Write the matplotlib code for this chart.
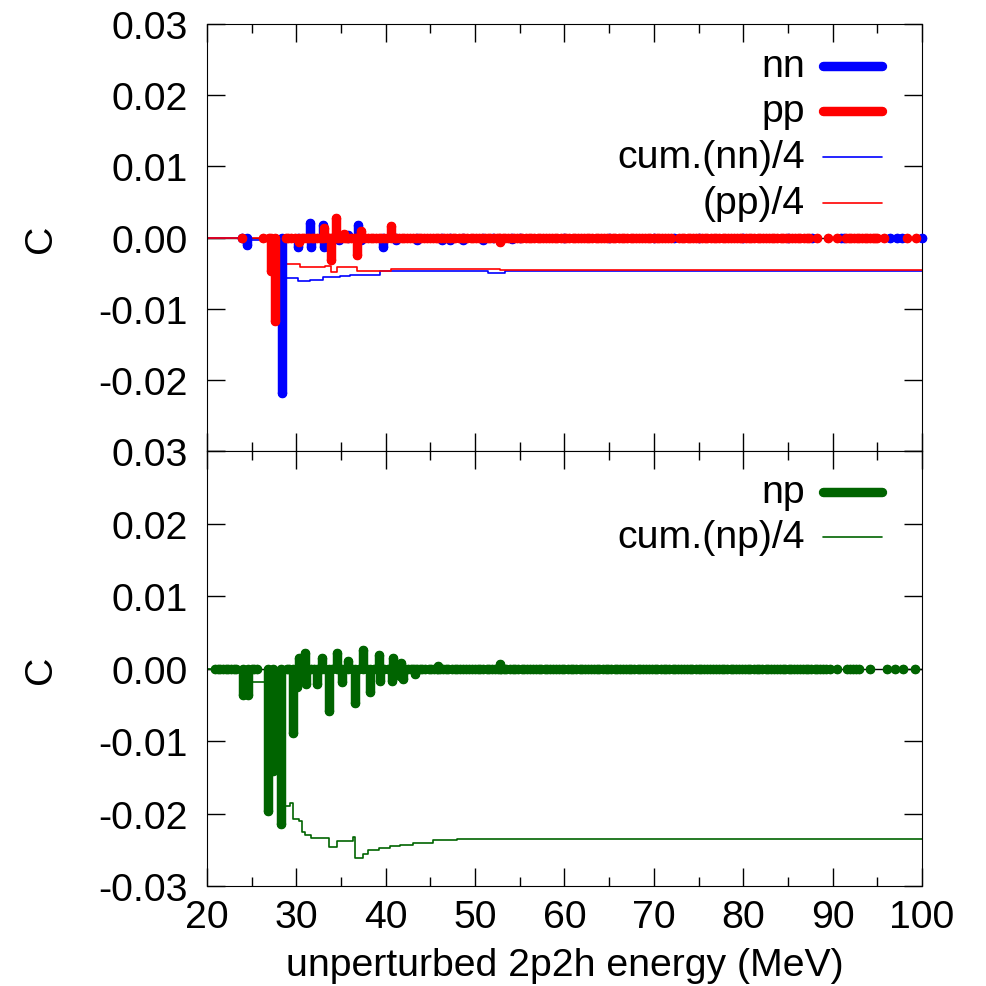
import matplotlib
matplotlib.use('Agg')
import matplotlib.pyplot as plt
from matplotlib.ticker import MultipleLocator

plt.rcParams['font.family'] = ['Liberation Sans', 'DejaVu Sans']
plt.rcParams['axes.unicode_minus'] = False

# ---- data (energy in MeV, C) ----
# nn impulses
nn_E = [23.9, 24.5, 28.35, 30.2, 31.5, 31.6, 33.0, 33.1, 34.8, 35.8, 36.9, 37.2, 39.7, 41.2,
        43.5, 46.3, 47.2, 48.6, 50.9, 52.0, 54.1, 55.0, 60.0, 65.0, 70.0, 72.3, 75.0, 80.0,
        85.0, 87.7, 90.9, 91.3, 96.4, 97.2, 97.8, 100.0]
nn_C = [0.0, -0.0011, -0.0218, -0.0014, 0.0021, -0.0014, 0.0018, -0.0013, -0.0004, 0.0003,
        0.0018, -0.0003, -0.0013, -0.0004,
        -0.0003, -0.0003, -0.0003, -0.0003, -0.0003, 0.0, -0.0002, 0.0, 0.0, 0.0, 0.0, 0.0,
        0.0, 0.0, 0.0, 0.0, 0.0, 0.0, 0.0, 0.0, 0.0, 0.0]

# pp impulses
pp_E = [23.9, 26.3, 26.9, 27.2, 27.6, 30.3, 33.1, 33.9, 34.4, 35.3, 36.8, 37.2, 40.6, 52.8]
pp_C = [0.0, 0.0, 0.0, -0.0047, -0.0118, -0.0007, 0.0014, -0.0031, 0.0028, 0.0005,
        -0.0024, 0.0009, 0.0016, -0.0007]
# pp states with |C| too small to see
pp_zero_E = [28.8, 29.1, 29.4, 29.8, 30.6, 30.9, 31.2, 31.4, 31.7, 32.0, 32.3, 32.6, 32.9,
             33.5, 33.7, 34.0, 34.7, 35.0, 35.5, 35.8, 36.1, 36.4, 36.7, 37.4, 37.7, 38.0,
             38.3, 38.6, 38.9, 39.2, 39.5, 39.8, 40.1, 40.9, 41.2, 41.5, 41.8, 42.1, 42.4,
             42.7, 43.0, 43.4, 43.7, 44.0, 44.3, 44.6, 44.9, 45.3, 45.6, 45.9, 46.2, 46.5,
             46.9, 47.2, 47.5, 47.8, 48.2, 48.5, 48.8, 49.1, 49.5, 49.8, 50.1, 50.4, 50.8,
             51.1, 51.4, 51.7, 52.1, 52.4, 52.7, 53.1, 53.4, 53.7, 54.0, 54.4, 54.7, 55.0,
             55.3, 55.7, 56.0, 56.3, 56.6, 57.0, 57.3, 57.6, 57.9, 58.3, 58.6, 58.9, 59.2,
             59.6, 59.9, 60.2, 60.5, 60.9, 61.2, 61.5, 61.8, 62.2, 62.5, 62.8, 63.1, 63.5,
             63.8, 64.1, 64.4, 64.8, 65.1, 65.4, 65.7, 66.1, 66.4, 66.7, 67.0, 67.4, 67.7,
             68.0, 68.3, 68.7, 69.0, 69.3, 69.6, 70.0, 70.3, 70.6, 70.9, 71.3, 71.6, 71.9,
             72.8, 73.1, 73.4, 73.8, 74.1, 74.4, 74.7, 75.1, 75.4, 75.7, 76.0, 76.4, 76.7,
             77.0, 77.3, 77.7, 78.0, 78.3, 78.6, 79.0, 79.3, 79.6, 79.9, 80.3, 80.6, 80.9,
             81.2, 81.6, 81.9, 82.2, 82.5, 82.9, 83.2, 83.5, 83.8, 84.2, 84.5, 84.8, 85.1,
             85.5, 85.8, 86.1, 86.4, 86.8, 87.1, 87.4, 88.3, 89.5, 90.5, 91.5, 91.8, 92.1,
             92.4, 92.7, 93.0, 93.3, 93.6, 93.9, 94.2, 94.5, 94.8, 95.0, 95.8, 98.3, 99.3]

# cumulative sums / 4 (step lines)
nn_cum_E = [20.0, 24.5, 28.35, 30.2, 31.5, 33.0, 34.9, 36.0, 39.4, 51.4, 53.4, 100.0]
nn_cum = [0.0, -0.0003, -0.0057, -0.0061, -0.0059, -0.0056, -0.0054, -0.0052, -0.0047,
          -0.0050, -0.0047, -0.0047]
pp_cum_E = [20.0, 27.0, 30.4, 33.2, 33.9, 34.5, 36.8, 40.6, 52.8, 100.0]
pp_cum = [0.0, -0.0037, -0.0042, -0.0040, -0.0049, -0.0042, -0.0047, -0.0044, -0.0045,
          -0.0045]

# np impulses
np_E = [24.0, 24.6, 26.8, 27.4, 28.3, 29.6, 30.1, 30.3, 31.0, 31.1, 32.3, 32.9, 33.7, 34.5,
        35.1, 35.8, 36.6, 37.5, 38.2, 39.3, 39.4, 40.7, 40.8, 41.6, 41.7, 41.9, 43.3, 45.8,
        52.8]
np_C = [-0.0037, -0.0036, -0.0196, -0.0142, -0.0214, -0.0089, -0.0026, 0.0015, 0.0022,
        -0.0022, -0.0022, 0.0015, -0.0058, 0.0022, -0.0019, 0.0011, -0.0047, 0.0025,
        -0.0033, 0.0018, -0.0017, -0.0017, 0.0015, -0.0010, 0.0008, -0.0015, -0.0008,
        0.0003, 0.0006]
np_zero_E = [20.9, 21.2, 21.5, 21.8, 22.1, 22.4, 22.7, 23.0, 23.2, 25.0, 25.3, 25.6, 28.9,
             29.2, 30.6, 31.6, 32.0, 33.2, 34.0, 35.4, 36.2, 37.0, 37.9, 38.7, 39.8, 40.3,
             41.2, 42.2, 42.5, 42.8, 43.1, 43.5, 43.8, 44.1, 44.4, 44.8, 45.1, 45.4, 45.7,
             46.1, 46.4, 46.7, 47.0, 47.4, 47.7, 48.0, 48.3, 48.7, 49.0, 49.3, 49.6, 50.0,
             50.3, 50.6, 50.9, 51.3, 51.6, 51.9, 52.2, 52.6, 52.9, 53.2, 53.5, 53.9, 54.2,
             54.5, 54.8, 55.2, 55.5, 55.8, 56.1, 56.5, 56.8, 57.1, 57.4, 57.8, 58.1, 58.4,
             58.7, 59.1, 59.4, 59.7, 60.0, 60.4, 60.7, 61.0, 61.3, 61.7, 62.0, 62.3, 62.6,
             63.0, 63.3, 63.6, 63.9, 64.3, 64.6, 64.9, 65.2, 65.6, 65.9, 66.2, 66.5, 66.9,
             67.2, 67.5, 67.8, 68.2, 68.5, 68.8, 69.1, 69.5, 69.8, 70.1, 70.4, 70.8, 71.1,
             71.4, 71.7, 72.1, 72.4, 72.7, 73.0, 73.4, 73.7, 74.0, 74.3, 74.7, 75.0, 75.3,
             75.6, 76.0, 76.3, 76.6, 76.9, 77.3, 77.6, 77.9, 78.2, 78.6, 78.9, 79.2, 79.5,
             79.9, 80.2, 80.5, 80.8, 81.2, 81.5, 81.8, 82.1, 82.5, 82.8, 83.1, 83.4, 83.8,
             84.1, 84.4, 84.7, 85.1, 85.4, 85.7, 86.0, 86.4, 86.7, 87.0, 87.3, 87.6, 88.0,
             88.3, 88.6, 88.9, 89.3, 89.7, 90.5, 91.6, 92.0, 92.3, 92.6, 93.0, 94.2, 96.1,
             97.0, 97.9, 99.2]
np_cum_E = [20.0, 24.0, 24.6, 26.8, 27.4, 28.3, 29.3, 29.6, 30.3, 30.6, 31.0, 31.6, 33.7,
            34.6, 36.3, 36.6, 37.5, 38.0, 39.3, 40.5, 41.6, 43.0, 45.3, 48.0, 100.0]
np_cum = [0.0, -0.0009, -0.0018, -0.0067, -0.0102, -0.0190, -0.0186, -0.0207, -0.0210,
          -0.0225, -0.0230, -0.0234, -0.0246, -0.0238, -0.0232, -0.0262, -0.0256, -0.0251,
          -0.0248, -0.0245, -0.0243, -0.0240, -0.0237, -0.0235, -0.0235]

yticks = [-0.03, -0.02, -0.01, 0.0, 0.01, 0.02, 0.03]
FS = 28.3
THICK = 6.8
THIN = 1.2


def impulses(ax, E, C, color, z):
    ax.vlines(E, 0, C, colors=color, lw=THICK, capstyle='round', zorder=z)
    ax.plot(E, C, 'o', ms=THICK, mew=0, color=color, zorder=z, clip_on=False)
    ax.plot(E, [0.0] * len(E), 'o', ms=THICK, mew=0, color=color, zorder=z, clip_on=False)


def style(ax):
    ax.set_xlim(20, 100)
    ax.set_ylim(-0.03, 0.03)
    ax.xaxis.set_major_locator(MultipleLocator(10))
    ax.xaxis.set_minor_locator(MultipleLocator(5))
    ax.tick_params(which='both', direction='in', top=True, right=True, width=1,
                   labelsize=FS)
    ax.tick_params(which='major', length=13)
    ax.tick_params(which='minor', length=6.5)
    ax.tick_params(axis='y', pad=14)
    ax.tick_params(axis='x', pad=9)
    ax.axhline(0, color='black', lw=1, zorder=1)
    ax.set_ylabel('C', fontsize=FS)
    ax.yaxis.set_label_coords(-0.207, 0.5)


def legend_entry(ax, y, label, color, lw):
    ax.text(0.836, y, label, transform=ax.transAxes, ha='right', va='center', fontsize=FS)
    ax.plot([0.8615, 0.944], [y, y], transform=ax.transAxes, color=color, lw=lw,
            solid_capstyle='round', clip_on=False)


fig = plt.figure(figsize=(9.87, 9.87), dpi=100)
ax1 = fig.add_axes([0.2097, 0.5420, 0.7244, 0.4327])
ax2 = fig.add_axes([0.2097, 0.1013, 0.7244, 0.4407])

# upper panel: nn, pp
ax1.step(nn_cum_E, nn_cum, where='post', color='blue', lw=THIN, zorder=2)
ax1.step(pp_cum_E, pp_cum, where='post', color='red', lw=THIN, zorder=2)
impulses(ax1, nn_E, nn_C, 'blue', 3)
impulses(ax1, pp_E, pp_C, 'red', 4)
impulses(ax1, pp_zero_E, [0.0] * len(pp_zero_E), 'red', 4)
style(ax1)
ax1.set_yticks(yticks)
ax1.set_yticklabels(['', '-0.02', '-0.01', '0.00', '0.01', '0.02', '0.03'])
ax1.tick_params(axis='x', labelbottom=False)
legend_entry(ax1, 0.9016, 'nn', 'blue', THICK)
legend_entry(ax1, 0.7963, 'pp', 'red', THICK)
legend_entry(ax1, 0.6885, 'cum.(nn)/4', 'blue', THIN)
legend_entry(ax1, 0.5808, '(pp)/4', 'red', THIN)

# lower panel: np
ax2.step(np_cum_E, np_cum, where='post', color='#006400', lw=THIN, zorder=2)
impulses(ax2, np_E, np_C, '#006400', 3)
impulses(ax2, np_zero_E, [0.0] * len(np_zero_E), '#006400', 3)
style(ax2)
ax2.set_yticks(yticks)
ax2.set_yticklabels(['%.2f' % v for v in yticks])
ax2.set_xlabel('unperturbed 2p2h energy (MeV)', fontsize=FS, labelpad=9)
legend_entry(ax2, 0.9057, 'np', '#006400', THICK)
legend_entry(ax2, 0.8023, 'cum.(np)/4', '#006400', THIN)

fig.savefig('out.png', dpi=100)
